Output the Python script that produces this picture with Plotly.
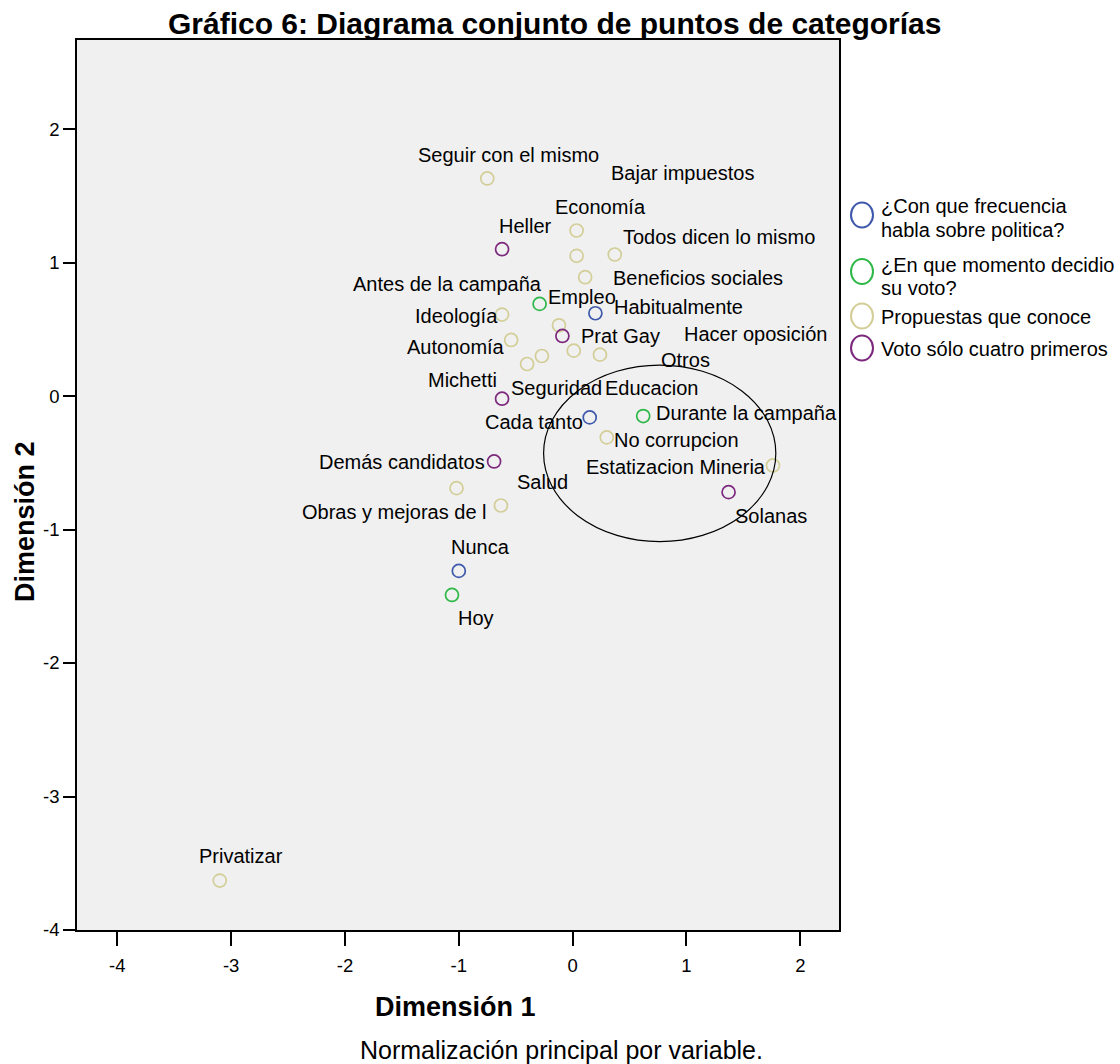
import plotly.graph_objects as go

# ---------------- data ----------------
group_names = ["¿Con que frecuencia habla sobre politica?",
               "¿En que momento decidio su voto?",
               "Propuestas que conoce",
               "Voto sólo cuatro primeros"]

freq_labels = ["Habitualmente", "Cada tanto", "Nunca"]
freq_x = [0.20, 0.15, -1.00]
freq_y = [0.62, -0.16, -1.31]

momento_labels = ["Antes de la campaña", "Durante la campaña", "Hoy"]
momento_x = [-0.29, 0.62, -1.06]
momento_y = [0.69, -0.15, -1.49]

prop_labels = ["Seguir con el mismo", "Economía", "Bajar impuestos", "Todos dicen lo mismo",
               "Beneficios sociales", "Ideología", "Empleo", "Autonomía", "Educacion",
               "Seguridad", "Otros", "Hacer oposición", "No corrupcion",
               "Estatizacion Mineria", "Obras y mejoras de l", "Salud", "Privatizar"]
prop_x = [-0.75, 0.035, 0.035, 0.37, 0.11, -0.62, -0.12, -0.54, -0.27, -0.40,
          0.01, 0.24, 0.30, 1.76, -1.02, -0.63, -3.10]
prop_y = [1.63, 1.24, 1.05, 1.06, 0.89, 0.61, 0.53, 0.42, 0.30, 0.24,
          0.34, 0.31, -0.31, -0.52, -0.69, -0.82, -3.63]

voto_labels = ["Heller", "Prat Gay", "Michetti", "Demás candidatos", "Solanas"]
voto_x = [-0.62, -0.09, -0.62, -0.69, 1.37]
voto_y = [1.10, 0.45, -0.02, -0.49, -0.72]

x_ticks = [-4, -3, -2, -1, 0, 1, 2]
y_ticks = [-4, -3, -2, -1, 0, 1, 2]

# hand-drawn ellipse (data units)
ellipse_x = [-0.255, 1.785]
ellipse_y = [-1.09, 0.232]

# ---------------- label placement (pixel offsets: right, down) ----------------
freq_off = [(83, -6), (-56, 5), (22, -24)]
momento_off = [(-92, -20), (103, -3), (24, 23)]
prop_off = [(21, -23), (24, -23), (106, -83), (104, -18), (113, 1), (-46, 1), (23, -28),
            (-55, 7), (110, 32), (29, 24), (112, 9), (156, -21), (70, 3), (-97, 2),
            (-62, 24), (42, -23), (21, -25)]
voto_off = [(23, -23), (58, 0), (-40, -19), (-92, 1), (42, 24)]

colors = ["#3E58AC", "#2EB848", "#D3CE97", "#7C287D"]
FONT = "Liberation Sans, Arial, sans-serif"

W, H = 1120, 1064
L, R, T, B = 77, 839, 40, 930  # plot area in pixels


def px(xp):
    return (xp - L) / (R - L)


def py(yp):
    return (B - yp) / (B - T)


fig = go.Figure()
groups = [(freq_x, freq_y, freq_labels, freq_off),
          (momento_x, momento_y, momento_labels, momento_off),
          (prop_x, prop_y, prop_labels, prop_off),
          (voto_x, voto_y, voto_labels, voto_off)]

annotations = []
for (gx, gy, gl, go_), col, name in zip(groups, colors, group_names):
    fig.add_trace(go.Scatter(
        x=gx, y=gy, mode="markers", name=name, showlegend=False,
        marker=dict(symbol="circle-open", size=13, color=col, line=dict(width=1.7, color=col)),
        hoverinfo="text", text=gl))
    for xv, yv, lab, (dx, dy) in zip(gx, gy, gl, go_):
        annotations.append(dict(x=xv, y=yv, xref="x", yref="y", text=lab, showarrow=False,
                                xshift=dx, yshift=-dy, xanchor="center", yanchor="middle",
                                font=dict(family=FONT, size=20, color="black")))

# ellipse
fig.add_shape(type="circle", xref="x", yref="y",
              x0=ellipse_x[0], x1=ellipse_x[1], y0=ellipse_y[0], y1=ellipse_y[1],
              line=dict(color="black", width=1.2), layer="above")

# manual legend
legend_lines = [["¿Con que frecuencia", "habla sobre politica?"],
                ["¿En que momento decidio", "su voto?"],
                ["Propuestas que conoce"],
                ["Voto sólo cuatro primeros"]]
legend_circle_y = [215, 271.5, 316, 348]
legend_text_y = [[206, 229.5], [265, 288], [317], [349]]
for col, cy, lines, tys in zip(colors, legend_circle_y, legend_lines, legend_text_y):
    fig.add_shape(type="circle", xref="paper", yref="paper", xsizemode="pixel", ysizemode="pixel",
                  xanchor=px(862), yanchor=py(cy), x0=-11, x1=11, y0=-12.5, y1=12.5,
                  line=dict(color=col, width=2))
    for ln, ty in zip(lines, tys):
        annotations.append(dict(x=px(879), y=py(ty), xref="paper", yref="paper", text=ln,
                                showarrow=False, xanchor="left", yanchor="middle",
                                font=dict(family=FONT, size=20, color="black")))

# titles
annotations.append(dict(x=px(554), y=py(24), xref="paper", yref="paper",
                        text="<b>Gráfico 6: Diagrama conjunto de puntos de categorías</b>",
                        showarrow=False, xanchor="center", yanchor="middle",
                        font=dict(family=FONT, size=30, color="black")))
annotations.append(dict(x=px(455), y=py(1007), xref="paper", yref="paper",
                        text="<b>Dimensión 1</b>", showarrow=False,
                        xanchor="center", yanchor="middle",
                        font=dict(family=FONT, size=27, color="black")))
annotations.append(dict(x=px(25), y=py(522), xref="paper", yref="paper",
                        text="<b>Dimensión 2</b>", showarrow=False, textangle=-90,
                        xanchor="center", yanchor="middle",
                        font=dict(family=FONT, size=27, color="black")))
annotations.append(dict(x=px(561), y=py(1050), xref="paper", yref="paper",
                        text="Normalización principal por variable.", showarrow=False,
                        xanchor="center", yanchor="middle",
                        font=dict(family=FONT, size=25, color="black")))

fig.update_layout(
    width=W, height=H,
    margin=dict(l=L, r=W - R, t=T, b=H - B, pad=0),
    paper_bgcolor="white", plot_bgcolor="#F0F0F0",
    showlegend=False,
    annotations=annotations,
    font=dict(family=FONT, color="black"),
)
fig.update_xaxes(range=[-4.354, 2.34], tickmode="array", tickvals=x_ticks,
                 ticktext=[str(v) for v in x_ticks],
                 ticks="outside", ticklen=14, tickwidth=2, tickcolor="black",
                 showline=True, mirror=True, linecolor="black", linewidth=1.5,
                 showgrid=False, zeroline=False, ticklabelstandoff=4,
                 tickfont=dict(family=FONT, size=18.5, color="black"))
fig.update_yaxes(range=[-4, 2.667], tickmode="array", tickvals=y_ticks,
                 ticktext=[str(v) for v in y_ticks],
                 ticks="outside", ticklen=12, tickwidth=2, tickcolor="black",
                 showline=True, mirror=True, linecolor="black", linewidth=1.5,
                 showgrid=False, zeroline=False,
                 tickfont=dict(family=FONT, size=18.5, color="black"))

fig.write_html("out.html", config={"displayModeBar": False},
               post_script="document.body.style.margin='0';document.body.style.overflow='hidden';")
